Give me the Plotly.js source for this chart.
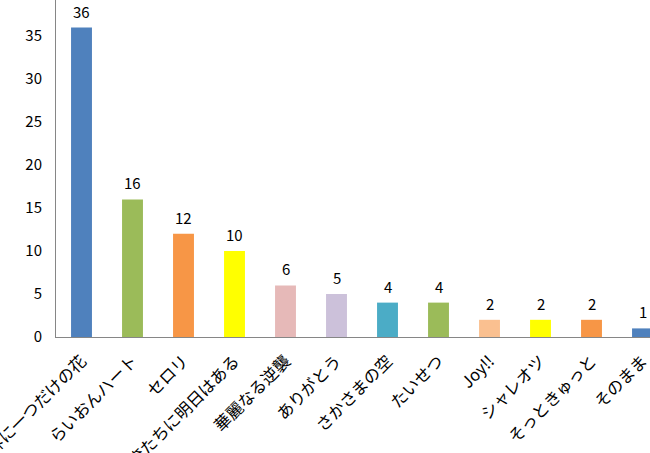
<!DOCTYPE html>
<html>
<head>
<meta charset="utf-8">
<script src="https://cdn.plot.ly/plotly-3.0.1.min.js"></script>
<style>
html,body{margin:0;padding:0;background:#fff;}
#chart{width:650px;height:453px;}
</style>
</head>
<body>
<div id="chart"></div>
<script>
const categories = ["世界に一つだけの花","らいおんハート","セロリ","俺たちに明日はある","華麗なる逆襲","ありがとう","さかさまの空","たいせつ","Joy!!","シャレオツ","そっときゅっと","そのまま"];
const values = [36,16,12,10,6,5,4,4,2,2,2,1];
const barColors = ["#4F81BD","#9BBB59","#F79646","#FFFF00","#E6B9B8","#CCC1DA","#4BACC6","#9BBB59","#FAC090","#FFFF00","#F79646","#4F81BD"];

const font = "Meiryo, 'Noto Sans CJK JP', sans-serif";

const annotations = categories.map((c, i) => ({
  x: c, y: values[i], xref: 'x', yref: 'y',
  text: String(values[i]), showarrow: false,
  yanchor: 'bottom', yshift: 5, borderpad: 0,
  font: {family: font, size: 15, color: '#000'}
}));

Plotly.newPlot('chart', [{
  type: 'bar',
  x: categories,
  y: values,
  marker: {color: barColors},
  width: 0.41,
  hoverinfo: 'none'
}], {
  width: 650, height: 453,
  margin: {l: 56, r: 0, t: 0, b: 116},
  paper_bgcolor: '#fff', plot_bgcolor: '#fff',
  showlegend: false,
  font: {family: font, size: 14, color: '#000'},
  annotations: annotations,
  xaxis: {
    type: 'category',
    range: [-0.5, 11.147],
    tickangle: -45,
    showline: true, linecolor: '#868686', linewidth: 1,
    ticks: '', showgrid: false, zeroline: false,
    tickfont: {family: font, size: 16.5, color: '#000'},
    ticklabelstandoff: 7,
    automargin: false
  },
  yaxis: {
    range: [0, 39.2],
    dtick: 5,
    showline: true, linecolor: '#868686', linewidth: 1,
    ticks: '', showgrid: false, zeroline: false,
    tickfont: {family: font, size: 15, color: '#000'},
    ticklabelstandoff: 10,
    automargin: false
  }
}, {displayModeBar: false, staticPlot: true});
</script>
</body>
</html>
